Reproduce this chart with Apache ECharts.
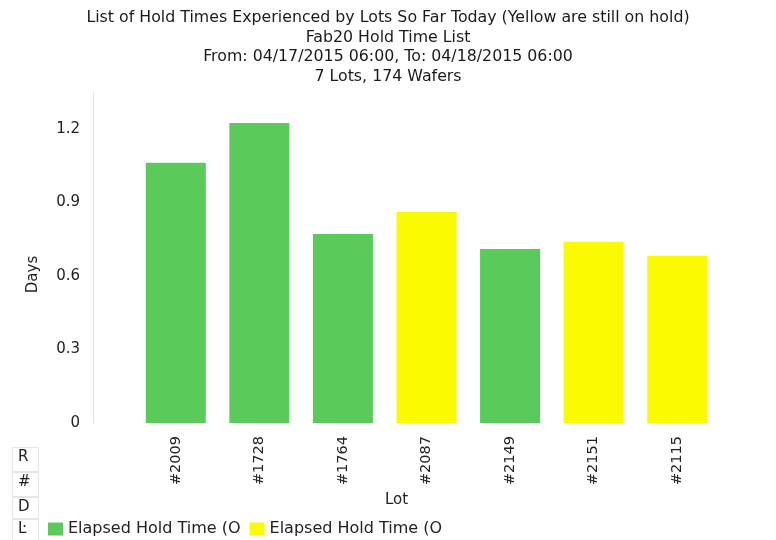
<!DOCTYPE html>
<html>
<head>
<meta charset="utf-8">
<script src="https://cdn.jsdelivr.net/npm/echarts@6/dist/echarts.min.js"></script>
<style>html,body{margin:0;padding:0;background:#fff}#c{width:776px;height:540px}</style>
</head>
<body>
<div id="c"></div>
<script>
const lots = ['#2009', '#1728', '#1764', '#2087', '#2149', '#2151', '#2115'];
const releasedDays = [1.061, 1.224, 0.771, '-', 0.710, '-', '-'];
const onHoldDays = ['-', '-', '-', 0.861, '-', 0.739, 0.682];
const yTicks = [0, 0.3, 0.6, 0.9, 1.2];
const titleLines = [
  'List of Hold Times Experienced by Lots So Far Today (Yellow are still on hold)',
  'Fab20 Hold Time List',
  'From: 04/17/2015 06:00, To: 04/18/2015 06:00',
  '7 Lots, 174 Wafers'
];
const seriesNames = ['Elapsed Hold Time (Off Hold)', 'Elapsed Hold Time (On Hold)'];
const sideLetters = ['R', '#', 'D', 'Ŀ'];

const FONT = 'DejaVu Sans';
const chart = echarts.init(document.getElementById('c'), null, {renderer: 'canvas'});

const graphics = [];
sideLetters.forEach((s, i) => {
  const ys = [447, 472, 497, 519];
  const hs = [24, 24, 21, 21];
  graphics.push({
    type: 'rect', left: 12, top: ys[i], shape: {width: 26, height: hs[i]},
    style: {fill: '#fff', stroke: '#e6e6e6', lineWidth: 1}
  });
  graphics.push({
    type: 'text', left: 18, top: ys[i] + 3,
    style: {text: s, font: '15px ' + FONT, fill: '#222'}
  });
});

chart.setOption({
  animation: false,
  backgroundColor: '#fff',
  title: {
    text: titleLines.join('\n'),
    left: 'center', top: 3,
    textStyle: {fontFamily: FONT, fontSize: 15.8, fontWeight: 'normal', color: '#1a1a1a', lineHeight: 19.6}
  },
  grid: {left: 134, right: 57, top: 92, bottom: 117},
  legend: {
    left: 43, top: 516, itemWidth: 15, itemHeight: 13, itemGap: 9, icon: 'rect',
    textStyle: {fontFamily: FONT, fontSize: 16, color: '#222'},
    formatter: n => n.slice(0, 20)
  },
  xAxis: {
    type: 'category', data: lots,
    name: 'Lot', nameLocation: 'middle', nameGap: 68,
    nameTextStyle: {fontFamily: FONT, fontSize: 15, color: '#222', padding: [0, 60, 0, 0]},
    axisLine: {show: false}, axisTick: {show: false},
    axisLabel: {rotate: 90, fontFamily: FONT, fontSize: 14.5, color: '#222', margin: 13}
  },
  yAxis: {
    type: 'value', min: 0, max: 1.35, interval: 0.3, offset: 41,
    name: 'Days', nameLocation: 'middle', nameGap: 52,
    nameTextStyle: {fontFamily: FONT, fontSize: 15, color: '#222', padding: [0, 34, 0, 0]},
    axisLine: {show: true, lineStyle: {color: '#e2e2e2', width: 1}},
    axisTick: {show: false}, splitLine: {show: false},
    axisLabel: {
      fontFamily: FONT, fontSize: 15, color: '#222', margin: 13, showMaxLabel: false,
      formatter: v => yTicks.includes(+v.toFixed(2)) ? String(+v.toFixed(2)) : ''
    }
  },
  series: [
    {name: seriesNames[0], type: 'bar', data: releasedDays, barWidth: 60, barGap: '-100%',
     itemStyle: {color: '#5acb5a'}},
    {name: seriesNames[1], type: 'bar', data: onHoldDays, barWidth: 60, barGap: '-100%',
     itemStyle: {color: '#fafa00'}}
  ],
  graphic: graphics
});
</script>
</body>
</html>
